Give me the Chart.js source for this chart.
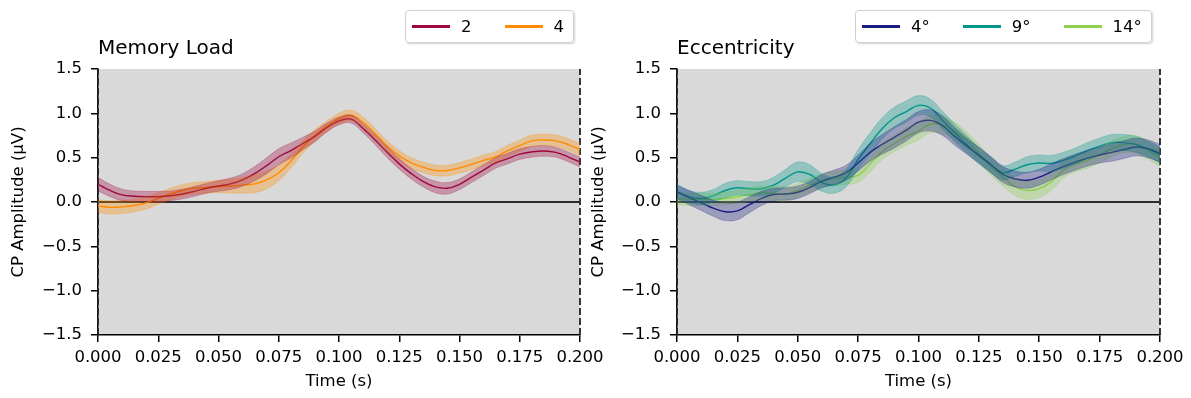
<!DOCTYPE html>
<html>
<head>
<meta charset="utf-8">
<script src="https://cdn.jsdelivr.net/npm/chart.js"></script>
<style>
    body { margin: 0; background: #fff; font-family: "DejaVu Sans", sans-serif; }
    #wrap { position: relative; width: 1191px; height: 398px; overflow: hidden; }
    .panel { position: absolute; top: 0; height: 398px; }
    .ttl { position: absolute; top: 37px; font-size: 20px; line-height: 20px; color: #000; }
    .lgd {
        position: absolute; top: 10px; height: 33px; box-sizing: border-box;
        display: flex; align-items: center; padding: 0 9px 0 6px;
        border: 1px solid #d0d0d0; border-radius: 4px; background: rgba(255, 255, 255, 0.85);
        box-shadow: 1px 1px 2px rgba(0, 0, 0, 0.18); font-size: 16.5px; color: #000;
    }
    .lgd .item { display: flex; align-items: center; }
    .lgd .item + .item { margin-left: 33px; }
    .lgd .swatch { width: 38px; height: 3.3px; margin-right: 11px; }
</style>
</head>
<body>
<div id="wrap">
    <div class="panel" style="left:0;width:610px;"><canvas id="load"></canvas></div>
    <div class="panel" style="left:585px;width:606px;"><canvas id="ecc"></canvas></div>
    <div class="ttl" style="left:98px;">Memory Load</div>
    <div class="ttl" style="left:677px;">Eccentricity</div>
    <div class="lgd" id="loadLegend" style="left:405px;"></div>
    <div class="lgd" id="eccLegend" style="left:855px;"></div>
</div>
<script>
/*global Chart*/
(function () {
    "use strict";

    var times = [0, 0.005, 0.01, 0.015, 0.02, 0.025, 0.03, 0.035, 0.04, 0.045, 0.05, 0.055, 0.06, 0.065,
        0.07, 0.075, 0.08, 0.085, 0.09, 0.095, 0.1, 0.105, 0.11, 0.115, 0.12, 0.125, 0.13, 0.135, 0.14,
        0.145, 0.15, 0.155, 0.16, 0.165, 0.17, 0.175, 0.18, 0.185, 0.19, 0.195, 0.2];

    // Memory load 2 / 4
    var load2 = [0.20, 0.13, 0.08, 0.065, 0.06, 0.06, 0.07, 0.09, 0.12, 0.155, 0.18, 0.205, 0.25, 0.32,
        0.41, 0.51, 0.58, 0.66, 0.74, 0.84, 0.915, 0.935, 0.83, 0.70, 0.56, 0.43, 0.32, 0.23, 0.17,
        0.155, 0.20, 0.28, 0.36, 0.44, 0.49, 0.54, 0.565, 0.575, 0.56, 0.51, 0.45];
    var load2Err = [0.075, 0.07, 0.065, 0.06, 0.06, 0.06, 0.055, 0.055, 0.055, 0.055, 0.06, 0.065, 0.07,
        0.08, 0.09, 0.09, 0.085, 0.07, 0.06, 0.05, 0.045, 0.045, 0.05, 0.055, 0.06, 0.06, 0.06, 0.06,
        0.065, 0.065, 0.06, 0.06, 0.06, 0.06, 0.06, 0.06, 0.06, 0.06, 0.055, 0.055, 0.055];
    var load4 = [-0.045, -0.06, -0.055, -0.04, -0.01, 0.04, 0.09, 0.13, 0.155, 0.165, 0.175, 0.18, 0.19,
        0.205, 0.25, 0.33, 0.46, 0.62, 0.75, 0.855, 0.94, 0.975, 0.90, 0.77, 0.63, 0.52, 0.44, 0.39,
        0.355, 0.355, 0.385, 0.425, 0.47, 0.51, 0.58, 0.635, 0.69, 0.70, 0.69, 0.65, 0.59];
    var load4Err = [0.07, 0.075, 0.075, 0.07, 0.07, 0.065, 0.065, 0.065, 0.065, 0.065, 0.07, 0.08, 0.09,
        0.1, 0.1, 0.09, 0.08, 0.07, 0.065, 0.06, 0.06, 0.06, 0.06, 0.06, 0.06, 0.06, 0.06, 0.06, 0.06,
        0.06, 0.06, 0.06, 0.06, 0.06, 0.06, 0.065, 0.065, 0.065, 0.065, 0.065, 0.065];

    // Eccentricity 4 / 9 / 14 deg
    var ecc4 = [0.11, 0.05, -0.01, -0.07, -0.11, -0.10, -0.03, 0.04, 0.085, 0.09, 0.11, 0.165, 0.235, 0.28,
        0.33, 0.44, 0.56, 0.65, 0.73, 0.81, 0.90, 0.92, 0.86, 0.74, 0.63, 0.53, 0.42, 0.31, 0.26, 0.245,
        0.28, 0.34, 0.40, 0.45, 0.495, 0.53, 0.56, 0.59, 0.62, 0.60, 0.55];
    var ecc4Err = [0.08, 0.08, 0.085, 0.09, 0.1, 0.1, 0.09, 0.08, 0.07, 0.07, 0.07, 0.07, 0.075, 0.08,
        0.085, 0.09, 0.1, 0.11, 0.12, 0.12, 0.12, 0.12, 0.11, 0.1, 0.09, 0.09, 0.09, 0.09, 0.09, 0.09,
        0.09, 0.09, 0.09, 0.09, 0.09, 0.09, 0.1, 0.1, 0.1, 0.1, 0.1];
    var ecc9 = [0.12, 0.06, 0.04, 0.07, 0.13, 0.16, 0.15, 0.15, 0.19, 0.27, 0.34, 0.31, 0.22, 0.19, 0.27,
        0.48, 0.66, 0.83, 0.95, 1.02, 1.09, 1.06, 0.92, 0.78, 0.65, 0.52, 0.42, 0.33, 0.37, 0.42, 0.44,
        0.435, 0.47, 0.52, 0.58, 0.63, 0.67, 0.67, 0.65, 0.60, 0.53];
    var ecc9Err = [0.08, 0.07, 0.07, 0.07, 0.08, 0.08, 0.08, 0.08, 0.09, 0.1, 0.11, 0.11, 0.1, 0.09, 0.1,
        0.11, 0.12, 0.12, 0.12, 0.12, 0.11, 0.1, 0.1, 0.1, 0.1, 0.09, 0.09, 0.08, 0.08, 0.09, 0.09,
        0.09, 0.09, 0.09, 0.09, 0.09, 0.09, 0.09, 0.09, 0.09, 0.09];
    var ecc14 = [0.04, 0.03, 0.03, 0.03, 0.04, 0.06, 0.085, 0.10, 0.10, 0.09, 0.13, 0.19, 0.24, 0.265,
        0.28, 0.30, 0.43, 0.57, 0.66, 0.74, 0.80, 0.88, 0.87, 0.80, 0.69, 0.55, 0.40, 0.28, 0.17, 0.13,
        0.15, 0.23, 0.36, 0.43, 0.47, 0.53, 0.60, 0.645, 0.65, 0.58, 0.50];
    var ecc14Err = [0.07, 0.07, 0.07, 0.07, 0.07, 0.075, 0.08, 0.08, 0.08, 0.08, 0.08, 0.08, 0.08, 0.08,
        0.08, 0.08, 0.09, 0.09, 0.09, 0.1, 0.1, 0.1, 0.1, 0.1, 0.1, 0.1, 0.1, 0.1, 0.1, 0.1, 0.1, 0.1,
        0.09, 0.09, 0.09, 0.09, 0.09, 0.09, 0.1, 0.1, 0.1];

    var xTicks = [0, 0.025, 0.05, 0.075, 0.1, 0.125, 0.15, 0.175, 0.2];
    var yTicks = [-1.5, -1, -0.5, 0, 0.5, 1, 1.5];

    var FONT = "'DejaVu Sans', sans-serif";

    var rgba = function (hex, a) {
        var n = parseInt(hex.slice(1), 16);
        return "rgba(" + (n >> 16) + "," + ((n >> 8) & 255) + "," + (n & 255) + "," + a + ")";
    };

    var points = function (vals, errs, sign) {
        return times.map(function (t, i) {
            return {x: t, y: vals[i] + sign * errs[i]};
        });
    };

    // lower edge, upper edge (filled to lower) and the mean line
    var series = function (vals, errs, color) {
        return {
            band: [{
                data: points(vals, errs, -1),
                borderColor: rgba(color, 0.25), borderWidth: 1, fill: false
            }, {
                data: points(vals, errs, 1),
                borderColor: rgba(color, 0.25), borderWidth: 1,
                backgroundColor: rgba(color, 0.32), fill: "-1"
            }],
            line: {
                data: points(vals, errs, 0),
                borderColor: color, borderWidth: 1.4, fill: false
            }
        };
    };

    var refLines = function () {
        var x0 = xTicks[0], x1 = xTicks[xTicks.length - 1],
            y0 = yTicks[0], y1 = yTicks[yTicks.length - 1];
        return [{
            data: [{x: x0, y: 0}, {x: x1, y: 0}],
            borderColor: "#2e2e2e", borderWidth: 2, fill: false, tension: 0
        }, {
            data: [{x: x0, y: y0}, {x: x0, y: y1}],
            borderColor: "#222", borderWidth: 1.8, borderDash: [7, 3], fill: false, tension: 0, clip: 4
        }, {
            data: [{x: x1, y: y0}, {x: x1, y: y1}],
            borderColor: "#222", borderWidth: 1.8, borderDash: [7, 3], fill: false, tension: 0, clip: 4
        }];
    };

    var plotBg = {
        id: "plotBg",
        beforeDraw: function (chart) {
            var a = chart.chartArea, ctx = chart.ctx;
            ctx.save();
            ctx.fillStyle = "#d9d9d9";
            ctx.fillRect(a.left, a.top, a.right - a.left, a.bottom - a.top);
            ctx.restore();
        }
    };

    var makeChart = function (id, list, yWidth, titlePad, rightPad) {
        var datasets = [];
        list.forEach(function (s) {
            datasets.push(s.band[0], s.band[1]);
        });
        list.forEach(function (s) {
            datasets.push(s.line);
        });
        datasets = datasets.concat(refLines());

        return new Chart(document.getElementById(id), {
            type: "line",
            data: {datasets: datasets},
            plugins: [plotBg],
            options: {
                responsive: true,
                maintainAspectRatio: false,
                animation: false,
                events: [],
                layout: {padding: {top: 69, right: rightPad, bottom: 0, left: 0}},
                elements: {point: {radius: 0}, line: {tension: 0.4}},
                plugins: {legend: {display: false}, tooltip: {enabled: false}},
                scales: {
                    x: {
                        type: "linear", min: 0, max: 0.2,
                        afterBuildTicks: function (s) {
                            s.ticks = xTicks.map(function (v) { return {value: v}; });
                        },
                        afterFit: function (s) { s.height = 63; },
                        grid: {drawOnChartArea: false, drawTicks: true, tickLength: 7, color: "#000", lineWidth: 1.5},
                        border: {color: "#000", width: 1.5},
                        ticks: {
                            color: "#000", font: {family: FONT, size: 16.5}, padding: 6,
                            maxRotation: 0, autoSkip: false,
                            callback: function (v) { return v.toFixed(3); }
                        },
                        title: {
                            display: true, text: "Time (s)", color: "#000",
                            font: {family: FONT, size: 16.5}, padding: {top: 0, bottom: 6}
                        }
                    },
                    y: {
                        type: "linear", min: -1.5, max: 1.5,
                        afterBuildTicks: function (s) {
                            s.ticks = yTicks.map(function (v) { return {value: v}; });
                        },
                        afterFit: function (s) { s.width = yWidth; },
                        grid: {drawOnChartArea: false, drawTicks: true, tickLength: 7, color: "#000", lineWidth: 1.5},
                        border: {color: "#000", width: 1.5},
                        ticks: {
                            color: "#000", font: {family: FONT, size: 16.5}, padding: 9,
                            callback: function (v) { return v.toFixed(1).replace("-", "\u2212"); }
                        },
                        title: {
                            display: true, text: "CP Amplitude (\u03bcV)", color: "#000",
                            font: {family: FONT, size: 16.5}, padding: {top: titlePad, bottom: 0}
                        }
                    }
                }
            }
        });
    };

    var legend = function (id, labels, colors) {
        var box = document.getElementById(id);
        labels.forEach(function (label, i) {
            var item = document.createElement("div"),
                sw = document.createElement("span"),
                txt = document.createElement("span");
            item.className = "item";
            sw.className = "swatch";
            sw.style.background = colors[i];
            txt.textContent = label;
            item.appendChild(sw);
            item.appendChild(txt);
            box.appendChild(item);
        });
    };

    var loadColors = ["#a0063f", "#ff8c00"];
    var eccColors = ["#1b1b84", "#00968a", "#8dd14f"];

    makeChart("load", [
        series(load2, load2Err, loadColors[0]),
        series(load4, load4Err, loadColors[1])
    ], 98, 9, 30);

    makeChart("ecc", [
        series(ecc4, ecc4Err, eccColors[0]),
        series(ecc9, ecc9Err, eccColors[1]),
        series(ecc14, ecc14Err, eccColors[2])
    ], 92, 4, 31);

    legend("loadLegend", ["2", "4"], loadColors);
    legend("eccLegend", ["4\u00b0", "9\u00b0", "14\u00b0"], eccColors);
}());
</script>
</body>
</html>
